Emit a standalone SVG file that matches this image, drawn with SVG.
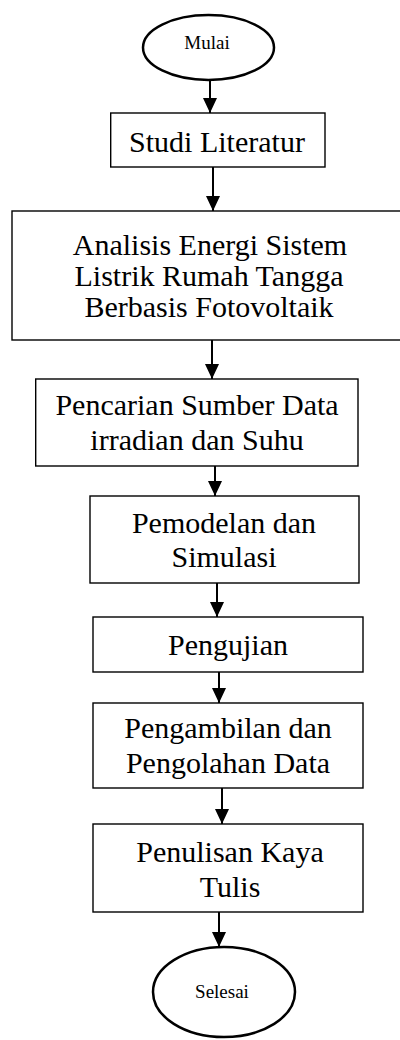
<svg xmlns="http://www.w3.org/2000/svg" width="400" height="1040" viewBox="0 0 400 1040">
<style>
.box{fill:#fff;stroke:#000;stroke-width:1.4}
.term{fill:#fff;stroke:#000;stroke-width:2.5}
.t{font-family:"Liberation Serif","Times New Roman",serif;font-size:30px;fill:#000;text-anchor:middle}
.s{font-family:"Liberation Serif","Times New Roman",serif;font-size:19px;fill:#000;text-anchor:middle}
.c{stroke:#000;stroke-width:2;fill:none;marker-end:url(#ah)}
</style>
<defs>
<marker id="ah" markerUnits="userSpaceOnUse" markerWidth="15" markerHeight="14" refX="15" refY="7" orient="auto" viewBox="0 0 15 14">
<path d="M0,0 L15,7 L0,14 Z" fill="#000"/>
</marker>
</defs>
<rect width="400" height="1040" fill="#fff"/>
<g id="connectors">
<line class="c" x1="210" y1="80" x2="210" y2="113"/>
<line class="c" x1="213" y1="167" x2="213" y2="211"/>
<line class="c" x1="212" y1="340" x2="212" y2="379"/>
<line class="c" x1="215" y1="466" x2="215" y2="496"/>
<line class="c" x1="217" y1="583" x2="217" y2="617"/>
<line class="c" x1="219" y1="672" x2="219" y2="703"/>
<line class="c" x1="222" y1="788" x2="222" y2="824"/>
<line class="c" x1="219" y1="912" x2="219" y2="947"/>
</g>
<g id="mulai">
<ellipse class="term" cx="208.5" cy="47.5" rx="65.5" ry="32.5"/>
<text class="s" x="207" y="49">Mulai</text>
</g>
<g id="studi">
<rect class="box" x="110.7" y="113" width="214.3" height="54"/>
<text class="t" x="217" y="152">Studi Literatur</text>
</g>
<g id="analisis">
<rect class="box" x="12" y="211" width="395" height="129"/>
<text class="t" x="210" y="255">Analisis Energi Sistem</text>
<text class="t" x="209" y="286">Listrik Rumah Tangga</text>
<text class="t" x="209" y="317">Berbasis Fotovoltaik</text>
</g>
<g id="pencarian">
<rect class="box" x="35.7" y="379" width="322.3" height="87"/>
<text class="t" x="197" y="415">Pencarian Sumber Data</text>
<text class="t" x="197" y="450">irradian dan Suhu</text>
</g>
<g id="pemodelan">
<rect class="box" x="90" y="496" width="269" height="87"/>
<text class="t" x="224" y="533">Pemodelan dan</text>
<text class="t" x="224" y="567">Simulasi</text>
</g>
<g id="pengujian">
<rect class="box" x="93" y="617" width="270" height="55"/>
<text class="t" x="228" y="655">Pengujian</text>
</g>
<g id="pengambilan">
<rect class="box" x="93" y="703" width="270" height="85"/>
<text class="t" x="228" y="738">Pengambilan dan</text>
<text class="t" x="228" y="773">Pengolahan Data</text>
</g>
<g id="penulisan">
<rect class="box" x="93" y="824" width="270" height="88"/>
<text class="t" x="230" y="862">Penulisan Kaya</text>
<text class="t" x="230" y="897">Tulis</text>
</g>
<g id="selesai">
<ellipse class="term" cx="224" cy="992" rx="71" ry="45"/>
<text class="s" x="222" y="998">Selesai</text>
</g>
</svg>
